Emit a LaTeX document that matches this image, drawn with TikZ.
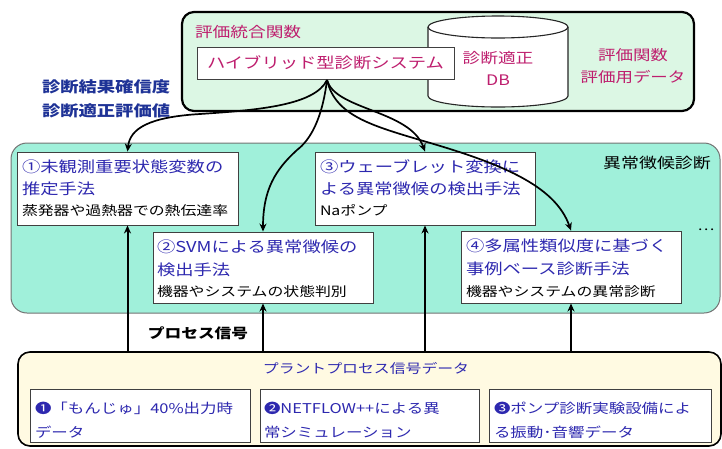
\documentclass[tikz,border=0pt]{standalone}
\usepackage{fontspec}
\setmainfont{Noto Sans CJK JP}[FakeStretch=1.22]
\usetikzlibrary{arrows.meta}
\definecolor{topc}{RGB}{220,247,228}
\definecolor{midc}{RGB}{160,240,218}
\definecolor{botc}{RGB}{255,250,226}
\definecolor{pinkc}{RGB}{190,30,110}
\definecolor{bluec}{RGB}{45,40,175}
\definecolor{navyc}{RGB}{30,50,150}
\newcommand\fsz[1]{\fontsize{#1}{#1}\selectfont}
\tikzset{
  lbl/.style={inner sep=0pt, outer sep=0pt},
  ttl/.style={lbl, anchor=west, text=bluec, font=\fsz{15}},
  sublbl/.style={lbl, anchor=west, text=black, font=\fsz{13}},
  btx/.style={lbl, anchor=west, text=bluec, font=\fsz{13.5}},
  wbox/.style={draw=black!75, fill=white, line width=0.9pt, inner sep=0pt},
  carr/.style={-{Stealth[length=8pt,width=7pt]}, line width=1.7pt},
  varr/.style={-{Stealth[length=8pt,width=7pt]}, line width=2pt},
}
\begin{document}
\begin{tikzpicture}[x=1pt,y=-1pt]
\useasboundingbox (0,0) rectangle (722,448);

% ---------- top panel ----------
\node[draw=black, fill=topc, line width=2.2pt, rounded corners=12pt,
      minimum width=512, minimum height=99, inner sep=0pt] (top) at (438,61.5) {};
\node[lbl, anchor=west, text=pinkc, font=\fsz{14.5}] (topttl) at (195,32) {評価統合関数};

% cylinder
\fill[white] (428,27) rectangle (568,96);
\fill[white] (498,27) ellipse [x radius=70, y radius=11];
\fill[white] (498,96) ellipse [x radius=70, y radius=11];
\draw[black!85, line width=1.1pt] (498,27) ellipse [x radius=70, y radius=11];
\draw[black!85, line width=1.1pt] (428,27) -- (428,96)
  .. controls (428,102.1) and (459.3,107) .. (498,107)
  .. controls (536.7,107) and (568,102.1) .. (568,96) -- (568,27);
\node[lbl, text=pinkc, font=\fsz{14.5}] (dbA) at (498,58) {診断適正};
\node[lbl, text=pinkc, font=\fsz{14.5}] (dbB) at (498,80) {DB};
\node[lbl, text=pinkc, font=\fsz{14.3}] (evA) at (633,55) {評価関数};
\node[lbl, text=pinkc, font=\fsz{14.3}] (evB) at (633,77) {評価用データ};

\node[wbox, minimum width=257, minimum height=32, text=pinkc, font=\fsz{15}] (hyb) at (325.5,63) {ハイブリッド型診断システム};

% left labels
\node[lbl, anchor=west, text=navyc, font=\fsz{15}\bfseries] (lbA) at (42,87) {診断結果確信度};
\node[lbl, anchor=west, text=navyc, font=\fsz{15}\bfseries] (lbB) at (42,111) {診断適正評価値};

% ---------- middle panel ----------
\node[draw=black!55, fill=midc, line width=1pt, rounded corners=16pt,
      minimum width=709, minimum height=170, inner sep=0pt] (mid) at (365.5,228) {};
\node[lbl, font=\fsz{14.7}] (midttl) at (657,163) {異常徴候診断};
\node[lbl, font=\fsz{13}] (dots) at (706,230) {…};

\node[wbox, minimum width=221, minimum height=73] (b1) at (127.5,188.5) {};
\node[wbox, minimum width=220, minimum height=73] (b3) at (425,188.5) {};
\node[wbox, minimum width=220, minimum height=71] (b2) at (263,267.5) {};
\node[wbox, minimum width=220, minimum height=72] (b4) at (571,267) {};

\node[ttl] (b1a) at (22,167) {①未観測重要状態変数の};
\node[ttl] (b1b) at (22,189) {推定手法};
\node[sublbl] (b1c) at (22,211) {蒸発器や過熱器での熱伝達率};

\node[ttl] (b3a) at (320,167) {③ウェーブレット変換に};
\node[ttl] (b3b) at (320,189) {よる異常徴候の検出手法};
\node[sublbl] (b3c) at (320,210) {Naポンプ};

\node[ttl] (b2a) at (157,247) {②SVMによる異常徴候の};
\node[ttl] (b2b) at (157,270) {検出手法};
\node[sublbl] (b2c) at (157,292) {機器やシステムの状態判別};

\node[ttl] (b4a) at (466,246) {④多属性類似度に基づく};
\node[ttl] (b4b) at (466,269) {事例ベース診断手法};
\node[sublbl] (b4c) at (466,292) {機器やシステムの異常診断};

% ---------- bottom panel ----------
\node[draw=black, fill=botc, line width=1.6pt, rounded corners=12pt,
      minimum width=703, minimum height=94, inner sep=0pt] (bot) at (369.5,399) {};
\node[lbl, text=bluec, font=\fsz{13}] (botttl) at (366,368) {プラントプロセス信号データ};

\node[wbox, minimum width=220, minimum height=53] (s1) at (140,415.5) {};
\node[wbox, minimum width=219, minimum height=53] (s2) at (369.5,415.5) {};
\node[wbox, minimum width=222, minimum height=53] (s3) at (600,415.5) {};

\node[btx] (s1a) at (35,408) {❶「もんじゅ」40\%出力時};
\node[btx] (s1b) at (35,432) {データ};
\node[btx] (s2a) at (264,408) {❷NETFLOW++による異};
\node[btx] (s2b) at (264,432) {常シミュレーション};
\node[btx] (s3a) at (494,408) {❸ポンプ診断実験設備によ};
\node[btx] (s3b) at (494,432) {る振動･音響データ};

\node[lbl, font=\fsz{13.7}\bfseries] (proc) at (198,333) {プロセス信号};

% ---------- vertical arrows ----------
\draw[varr] (bot.north -| b1.south) -- (b1.south);
\draw[varr] (bot.north -| b2.south) -- (b2.south);
\draw[varr] (bot.north -| b3.south) -- (b3.south);
\draw[varr] (bot.north -| b4.south) -- (b4.south);

% ---------- curved arrows ----------
\coordinate (src) at (327,80);
\draw[carr] (src) .. controls (315,105) and (260,110) .. (200,114)
  .. controls (150,117) and (130,128) .. (b1.north);
\draw[carr] (src) .. controls (322,120) and (310,140) .. (297,150)
  .. controls (275,170) and (263,190) .. (b2.north);
\draw[carr] (src) .. controls (335,110) and (410,110) .. (b3.north);
\draw[carr] (src) .. controls (335,115) and (370,125) .. (420,140)
  .. controls (500,163) and (555,185) .. (b4.north);
\end{tikzpicture}
\end{document}
